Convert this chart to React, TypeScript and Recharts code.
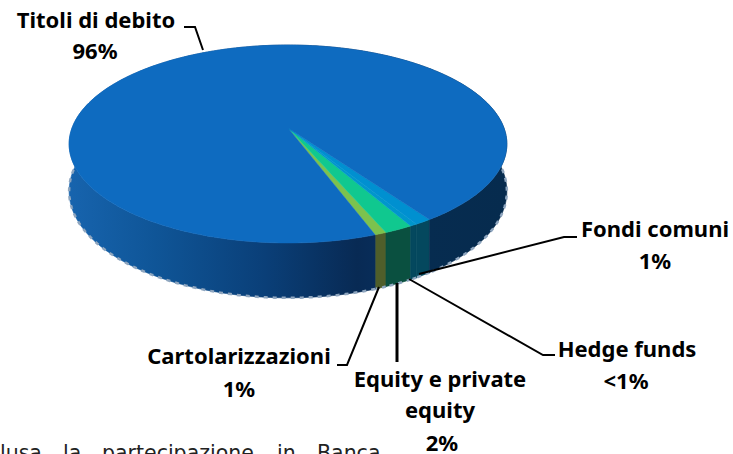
import { PieChart, Pie } from 'recharts';

const names = ['Cartolarizzazioni', 'Equity e private equity', 'Hedge funds', 'Fondi comuni', 'Titoli di debito'];
const values = [0.75, 1.8, 0.45, 1.05, 95.95];
const shownValues = ['1%', '2%', '<1%', '1%', '96%'];
const topColors = ['#7cc24e', '#10c88f', '#0096cc', '#0090d0', '#0e6bc0'];
const wallColors = ['#4f5e2a', '#0a5040', '#04485e', '#04485e', 'url(#wallShade)'];

const data = names.map((name, i) => ({ name, value: values[i], topFill: topColors[i], wallFill: wallColors[i] }));

// label layout: text rows and the leader line of every slice
const labelLayout: Record<string, { x: number; rows: [string, number][]; line: string; width?: number }> = {
  'Titoli di debito': { x: 96, rows: [['Titoli di debito', 28]], line: '184,27 195,27 203,50' },
  'Fondi comuni': { x: 655, rows: [['Fondi comuni', 237]], line: '419,274 564,237 577,237' },
  'Hedge funds': { x: 627, rows: [['Hedge funds', 357]], line: '409,279 543,355 555,355' },
  'Equity e private equity': { x: 440, rows: [['Equity e private', 387], ['equity', 418]], line: '397,283 397,362', width: 3 },
  Cartolarizzazioni: { x: 239, rows: [['Cartolarizzazioni', 364]], line: '379,287 347,365 337,365' },
};
const valueRow: Record<string, [number, number]> = {
  'Titoli di debito': [95, 59],
  'Fondi comuni': [655, 269],
  'Hedge funds': [626, 389],
  'Equity e private equity': [442, 451],
  Cartolarizzazioni: [239, 397],
};

// the disc is seen in perspective, so the centre sits above the middle of the ellipse
const RX = 216;
const RY = 96.4;
const TILT = 0.1616;
const DEPTH = 46;
const RAD = Math.PI / 180;

const project = (cx: number, cy: number, angle: number, drop: number) => {
  const u = Math.cos(angle * RAD);
  const v = -Math.sin(angle * RAD);
  const w = 1 - TILT * v;
  return [cx + (RX * u) / w, cy + (RY * v) / w + drop / w];
};

const arc = (cx: number, cy: number, from: number, to: number, drop: number) => {
  const pts: string[] = [];
  const n = Math.max(2, Math.ceil(Math.abs(to - from)));
  for (let i = 0; i <= n; i++) {
    const p = project(cx, cy, from + ((to - from) * i) / n, drop);
    pts.push(p[0].toFixed(2) + ' ' + p[1].toFixed(2));
  }
  return pts;
};

const WallShape = (props: any) => {
  const { cx, cy, startAngle, endAngle, payload } = props;
  const top = arc(cx, cy, startAngle, endAngle, 0);
  const bottom = arc(cx, cy, endAngle, startAngle, DEPTH);
  return (
    <g>
      <path d={'M' + top.join('L') + 'L' + bottom.join('L') + 'Z'} fill={payload.wallFill} stroke={payload.wallFill} strokeWidth={0.6} />
      <path d={'M' + bottom.join('L')} fill="none" stroke="#8fa6bf" strokeWidth={2.5} strokeDasharray="4 5" />
    </g>
  );
};

const TopShape = (props: any) => {
  const { cx, cy, startAngle, endAngle, payload } = props;
  const top = arc(cx, cy, startAngle, endAngle, 0);
  return <path d={'M' + cx + ' ' + cy + 'L' + top.join('L') + 'Z'} fill={payload.topFill} stroke={payload.topFill} strokeWidth={0.5} />;
};

const bold = { fontFamily: '"Noto Sans", sans-serif', fontWeight: 700, fontSize: 22, fill: '#000' };

const renderLabel = (props: any) => {
  const layout = labelLayout[props.name];
  const [vx, vy] = valueRow[props.name];
  return (
    <g>
      <polyline points={layout.line} fill="none" stroke="#000" strokeWidth={layout.width ?? 2} />
      {layout.rows.map(([text, y]) => (
        <text key={text} x={layout.x} y={y} textAnchor="middle" style={bold}>
          {text}
        </text>
      ))}
      <text x={vx} y={vy} textAnchor="middle" style={bold}>
        {shownValues[names.indexOf(props.name)]}
      </text>
    </g>
  );
};

export default function App() {
  return (
    <div style={{ position: 'absolute', left: 0, top: 0, width: 733, height: 454, overflow: 'hidden', background: '#fff' }}>
      <PieChart width={733} height={454} margin={{ top: 0, right: 0, bottom: 0, left: 0 }}>
        <defs>
          <linearGradient id="wallShade" gradientUnits="userSpaceOnUse" x1="68" y1="0" x2="506" y2="0">
            <stop offset="0" stopColor="#1764ae" />
            <stop offset="0.2" stopColor="#0f5597" />
            <stop offset="0.45" stopColor="#0a3f78" />
            <stop offset="0.66" stopColor="#082a54" />
            <stop offset="0.75" stopColor="#08305f" />
            <stop offset="0.82" stopColor="#062c50" />
            <stop offset="1" stopColor="#062b4e" />
          </linearGradient>
        </defs>
        <Pie
          data={data}
          dataKey="value"
          nameKey="name"
          cx={288}
          cy={128}
          outerRadius={100}
          startAngle={-70}
          endAngle={290}
          isAnimationActive={false}
          shape={WallShape}
        />
        <Pie
          data={data}
          dataKey="value"
          nameKey="name"
          cx={288}
          cy={128}
          outerRadius={100}
          startAngle={-70}
          endAngle={290}
          isAnimationActive={false}
          shape={TopShape}
          label={renderLabel}
          labelLine={false}
        />
        <text y={460} fontFamily='"DejaVu Sans", sans-serif' fontSize={20.5} fill="#222">
          <tspan x={0}>lusa</tspan>
          <tspan x={63}>la</tspan>
          <tspan x={102}>partecipazione</tspan>
          <tspan x={277}>in</tspan>
          <tspan x={317}>Banca</tspan>
        </text>
      </PieChart>
    </div>
  );
}
